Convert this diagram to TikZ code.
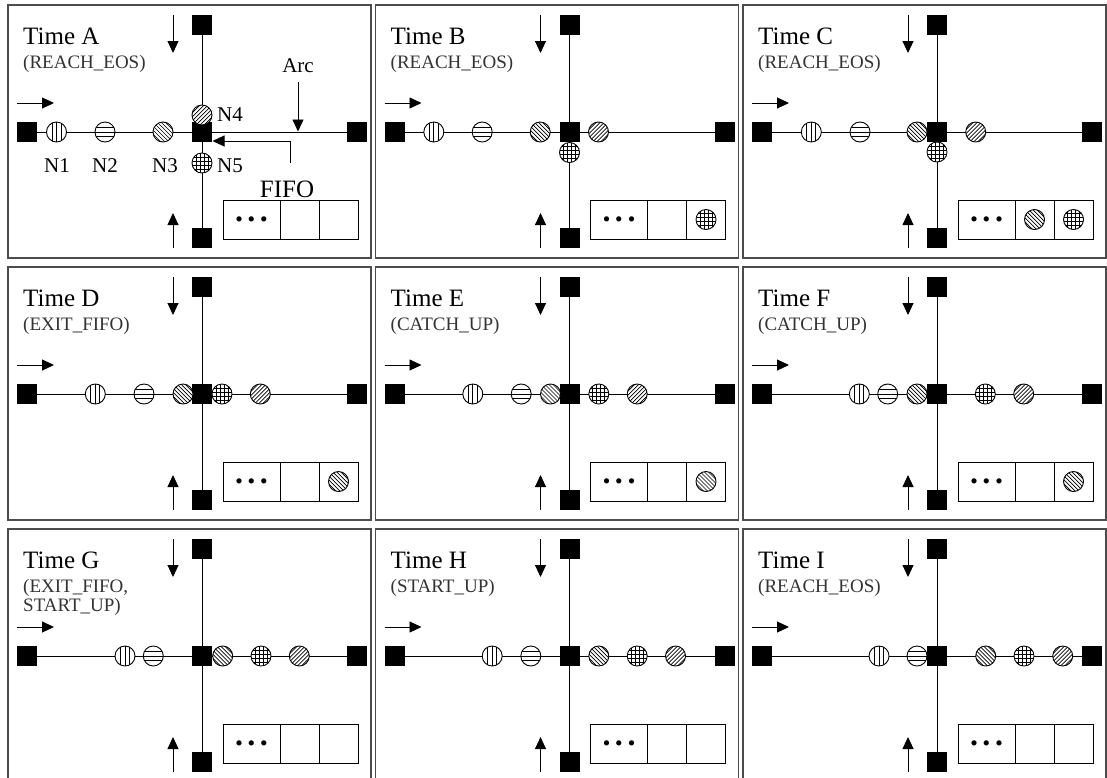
\documentclass[tikz,border=0pt]{standalone}
\usepackage{fontspec}
\setmainfont{Liberation Serif}
\usetikzlibrary{arrows.meta}
\pgfdeclarelayer{bg}
\pgfsetlayers{bg,main}
\tikzset{
 frame/.style={draw=black!70, line width=1.2pt},
 blk/.style={rectangle, fill=black, minimum size=20pt, inner sep=0pt, outer sep=0pt},
 conn/.style={line width=0.9pt},
 arr/.style={line width=0.9pt, -{Triangle[length=12pt,width=11pt]}},
 cell/.style={draw, rectangle, line width=0.9pt, minimum height=39pt, inner sep=0pt},
 ttl/.style={font=\fontsize{25}{25}\selectfont, inner sep=0pt, anchor=base west},
 sub/.style={font=\fontsize{19}{20}\selectfont, text=black!80, inner sep=0pt, anchor=base west},
 lbl/.style={font=\fontsize{21}{21}\selectfont, inner sep=0pt},
 big/.style={font=\fontsize{25}{25}\selectfont, inner sep=0pt},
 dots/.style={font=\bfseries\fontsize{32}{32}\selectfont, inner sep=0pt},
 tok/.style={circle, draw, fill=white, minimum size=20pt, inner sep=0pt, line width=0.9pt},
 tv/.style={tok, path picture={\foreach \d in {-4.5,0,4.5}{\draw[line width=0.7pt] ([xshift=\d*1pt]path picture bounding box.north) -- ([xshift=\d*1pt]path picture bounding box.south);}}},
 th/.style={tok, path picture={\foreach \d in {-4.5,0,4.5}{\draw[line width=0.7pt] ([yshift=\d*1pt]path picture bounding box.west) -- ([yshift=\d*1pt]path picture bounding box.east);}}},
 tb/.style={tok, path picture={\foreach \d in {-12,-8,...,12}{\draw[line width=0.7pt] ([xshift=\d*1pt-11pt,yshift=11pt]path picture bounding box.center) -- ([xshift=\d*1pt+11pt,yshift=-11pt]path picture bounding box.center);}}},
 tf/.style={tok, path picture={\foreach \d in {-12,-8,...,12}{\draw[line width=0.7pt] ([xshift=\d*1pt-11pt,yshift=-11pt]path picture bounding box.center) -- ([xshift=\d*1pt+11pt,yshift=11pt]path picture bounding box.center);}}},
 tg/.style={tok, path picture={\foreach \d in {-6,-2,2,6}{\draw[line width=0.7pt] ([xshift=\d*1pt]path picture bounding box.north) -- ([xshift=\d*1pt]path picture bounding box.south); \draw[line width=0.7pt] ([yshift=\d*1pt]path picture bounding box.west) -- ([yshift=\d*1pt]path picture bounding box.east);}}},
}
\newcommand{\PanelBase}[5]{%
\begin{scope}[shift={(#2,#3)}]
 \draw[frame] (0,0) rectangle (363,253);
 \node[blk] (#1T) at (194,20) {};
 \node[blk] (#1C) at (194,127) {};
 \node[blk] (#1B) at (194,233) {};
 \node[blk] (#1L) at (19,127) {};
 \node[blk] (#1R) at (349,127) {};
 \begin{pgfonlayer}{bg}
  \draw[conn] (#1L) -- (#1R);
  \draw[conn] (#1T) -- (#1B);
 \end{pgfonlayer}
 \draw[arr] (165,10) -- (165,48);
 \draw[arr] (165,243) -- (165,208);
 \draw[arr] (9,98) -- (46,98);
 \node[cell, minimum width=57pt] (#1F1) at (243.5,214.5) {};
 \node[cell, minimum width=39pt] (#1F2) at (291.5,214.5) {};
 \node[cell, minimum width=39pt] (#1F3) at (330.5,214.5) {};
 \node[dots] (#1D) at (#1F1) {.\hspace{4.5pt}.\hspace{4.5pt}.};
 \node[ttl] (#1ttl) at (15,39) {#4};
 \node[sub] (#1sub) at (15,63) {#5};
\end{scope}}
\begin{document}
\begin{tikzpicture}[x=1pt,y=-1pt]
\begin{pgfonlayer}{bg}
\fill[white] (0,0) rectangle (1107,777);
\end{pgfonlayer}
\useasboundingbox (0,0) rectangle (1107,777);

% ---------- Row 1 ----------
\PanelBase{A}{8}{5}{Time A}{(REACH\_EOS)}
\begin{scope}[shift={(8,5)}]
 \node[tv] (An1) at (48.5,127) {};
 \node[th] (An2) at (97,127) {};
 \node[tb] (An3) at (155,127) {};
 \node[tf] (An4) at (194,110) {};
 \node[tg] (An5) at (194,158) {};
 \node[lbl, anchor=base] (Al1) at (49,167) {N1};
 \node[lbl, anchor=base] (Al2) at (97,167) {N2};
 \node[lbl, anchor=base] (Al3) at (157,167) {N3};
 \node[lbl, anchor=base west] (Al4) at (209,116) {N4};
 \node[lbl, anchor=base west] (Al5) at (209,167) {N5};
 \node[lbl, anchor=base] (Aarc) at (290,67) {Arc};
 \coordinate (Aarcend) at (290,126.5);
 \draw[arr] ([yshift=-10pt]Aarc.south) -- (Aarcend);
 \node[big, anchor=base] (Afifo) at (279,192) {FIFO};
 \coordinate (Afifoend) at (204.5,136);
 \draw[arr] ([xshift=3pt,yshift=17.5pt]Afifo.north) |- (Afifoend);
\end{scope}

\PanelBase{B}{375.5}{5}{Time B}{(REACH\_EOS)}
\begin{scope}[shift={(375.5,5)}]
 \node[tv] (Bn1) at (58.3,127) {};
 \node[th] (Bn2) at (106.7,127) {};
 \node[tb] (Bn3) at (164.7,127) {};
 \node[tf] (Bn4) at (223,127) {};
 \node[tg] (Bn5) at (194,147.5) {};
 \node[tg] (Bq3) at (BF3) {};
\end{scope}

\PanelBase{C}{743}{5}{Time C}{(REACH\_EOS)}
\begin{scope}[shift={(743,5)}]
 \node[tv] (Cn1) at (68.3,127) {};
 \node[th] (Cn2) at (117,127) {};
 \node[tb] (Cn3) at (174,127) {};
 \node[tf] (Cn4) at (232.7,127) {};
 \node[tg] (Cn5) at (194,147) {};
 \node[tb] (Cq2) at (CF2) {};
 \node[tg] (Cq3) at (CF3) {};
\end{scope}

% ---------- Row 2 ----------
\PanelBase{D}{8}{267}{Time D}{(EXIT\_FIFO)}
\begin{scope}[shift={(8,267)}]
 \node[tv] (Dn1) at (87.3,127) {};
 \node[th] (Dn2) at (136,127) {};
 \node[tb] (Dn3) at (175,127) {};
 \node[tg] (Dn5) at (214,127) {};
 \node[tf] (Dn4) at (252.3,127) {};
 \node[tb] (Dq3) at (DF3) {};
\end{scope}

\PanelBase{E}{375.5}{267}{Time E}{(CATCH\_UP)}
\begin{scope}[shift={(375.5,267)}]
 \node[tv] (En1) at (97.3,127) {};
 \node[th] (En2) at (145.7,127) {};
 \node[tb] (En3) at (175,127) {};
 \node[tg] (En5) at (223.3,127) {};
 \node[tf] (En4) at (261.7,127) {};
 \node[tb] (Eq3) at (EF3) {};
\end{scope}

\PanelBase{F}{743}{267}{Time F}{(CATCH\_UP)}
\begin{scope}[shift={(743,267)}]
 \node[tv] (Fn1) at (116.3,127) {};
 \node[th] (Fn2) at (144.7,127) {};
 \node[tb] (Fn3) at (174,127) {};
 \node[tg] (Fn5) at (242.3,127) {};
 \node[tf] (Fn4) at (280.7,127) {};
 \node[tb] (Fq3) at (FF3) {};
\end{scope}

% ---------- Row 3 ----------
\PanelBase{G}{8}{529}{Time G}{(EXIT\_FIFO,}
\begin{scope}[shift={(8,529)}]
 \node[sub] (Gsub2) at (15,82) {START\_UP)};
 \node[tv] (Gn1) at (117,127) {};
 \node[th] (Gn2) at (145.3,127) {};
 \node[tb] (Gn3) at (214.7,127) {};
 \node[tg] (Gn5) at (253,127) {};
 \node[tf] (Gn4) at (291.3,127) {};
\end{scope}

\PanelBase{H}{375.5}{529}{Time H}{(START\_UP)}
\begin{scope}[shift={(375.5,529)}]
 \node[tv] (Hn1) at (116.7,127) {};
 \node[th] (Hn2) at (155.3,127) {};
 \node[tb] (Hn3) at (223.3,127) {};
 \node[tg] (Hn5) at (261.7,127) {};
 \node[tf] (Hn4) at (300,127) {};
\end{scope}

\PanelBase{I}{743}{529}{Time I}{(REACH\_EOS)}
\begin{scope}[shift={(743,529)}]
 \node[tv] (In1) at (136,127) {};
 \node[th] (In2) at (174,127) {};
 \node[tb] (In3) at (242.7,127) {};
 \node[tg] (In5) at (281,127) {};
 \node[tf] (In4) at (319.7,127) {};
\end{scope}
\end{tikzpicture}
\end{document}
